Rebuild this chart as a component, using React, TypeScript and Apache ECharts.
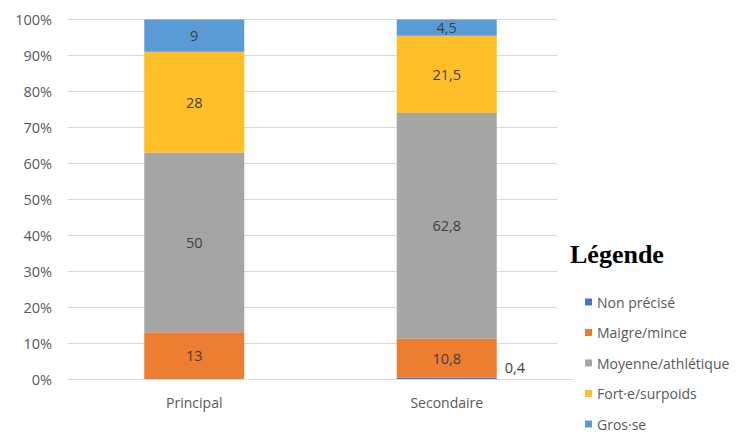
import React, { useEffect, useRef } from "react";
import * as echarts from "echarts";

const categories = ["Principal", "Secondaire"];
const seriesNames = ["Non précisé", "Maigre/mince", "Moyenne/athlétique", "Fort·e/surpoids", "Gros·se"];
const nonPrecise = [0, 0.4];
const maigre = [13, 10.8];
const moyenne = [50, 62.8];
const fort = [28, 21.5];
const gros = [9, 4.5];
const colors = ["#4472C4", "#ED7D31", "#A5A5A5", "#FFBF29", "#5B9BD5"];
const yTicks = [0, 10, 20, 30, 40, 50, 60, 70, 80, 90, 100];

const fmt = (v: number) => String(v).replace(".", ",");

export default function App() {
  const ref = useRef<HTMLDivElement>(null);
  useEffect(() => {
    if (!ref.current) return;
    const chart = echarts.init(ref.current, null, { renderer: "svg" });
    const font = "'Open Sans', sans-serif";
    const data = [nonPrecise, maigre, moyenne, fort, gros];
    const series = data.map((vals, i) => ({
      name: seriesNames[i],
      type: "bar",
      stack: "total",
      barWidth: 100,
      data: vals,
      itemStyle: { color: colors[i] },
      label:
        i === 0
          ? {
              show: true,
              position: "right",
              distance: 8,
              offset: [0, -11],
              color: "#404040",
              fontSize: 14.5,
              fontFamily: font,
              formatter: (p: any) => (p.value > 0 ? fmt(p.value) : ""),
            }
          : {
              show: true,
              position: "inside",
              color: "#404040",
              fontSize: 14.5,
              fontFamily: font,
              formatter: (p: any) => fmt(p.value),
            },
    }));
    chart.setOption({
      animation: false,
      backgroundColor: "#fff",
      textStyle: { fontFamily: font },
      grid: { left: 68, top: 19.5, width: 505, height: 359.5, containLabel: false },
      xAxis: {
        type: "category",
        data: categories,
        axisLine: { show: true, lineStyle: { color: "#D9D9D9" } },
        axisTick: { show: false },
        axisLabel: { color: "#595959", fontSize: 14, fontFamily: font, margin: 16 },
      },
      yAxis: {
        type: "value",
        min: yTicks[0],
        max: yTicks[yTicks.length - 1],
        interval: 10,
        axisLine: { show: false },
        axisTick: { show: false },
        splitLine: { lineStyle: { color: "#D9D9D9", width: 1 } },
        axisLabel: { color: "#595959", fontSize: 14.5, fontFamily: font, margin: 16, formatter: (v: number) => v + "%" },
      },
      legend: {
        orient: "vertical",
        left: 585,
        top: 295,
        padding: 0,
        itemWidth: 7,
        itemHeight: 7,
        itemGap: 16.5,
        icon: "rect",
        data: seriesNames,
        textStyle: { color: "#595959", fontSize: 14, lineHeight: 14, fontFamily: font },
      },
      graphic: [
        {
          type: "rect",
          shape: { x: 557, y: 10, width: 20, height: 365 },
          style: { fill: "#fff" },
          z: 1,
        },
        {
          type: "text",
          left: 570,
          top: 241,
          z: 5,
          style: {
            text: "Légende",
            font: "bold 26px 'Liberation Serif', serif",
            fill: "#000",
          },
        },
      ],
      series,
    });
    return () => chart.dispose();
  }, []);
  return <div ref={ref} style={{ width: 741, height: 432, position: "absolute", left: 0, top: 0 }} />;
}
